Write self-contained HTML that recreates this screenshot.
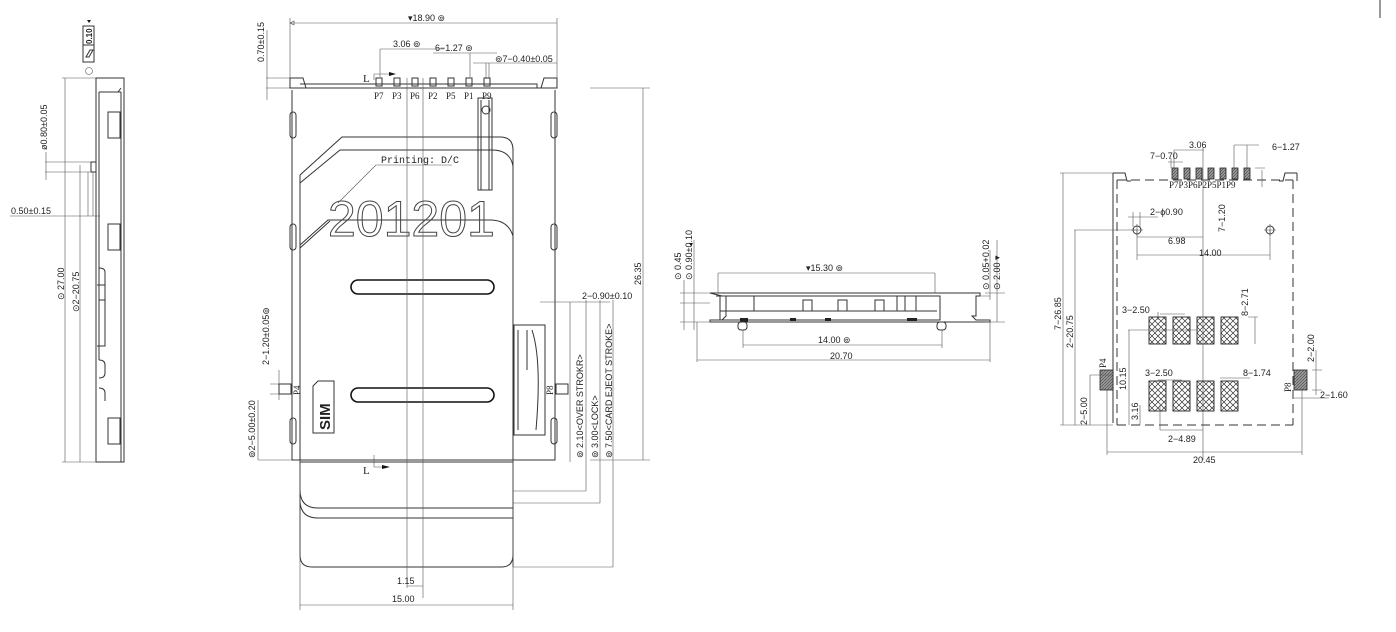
<!DOCTYPE html>
<html><head><meta charset="utf-8"><style>
html,body{margin:0;padding:0;background:#fff;}
svg{display:block;font-family:"Liberation Sans",sans-serif;}
text{font-size:9px;fill:#222;}
.s{fill:none;stroke:#333;stroke-width:1;}
.t{fill:none;stroke:#555;stroke-width:0.6;}
.k{fill:none;stroke:#111;stroke-width:1.6;}
</style></head><body>
<svg width="1396" height="632" viewBox="0 0 1396 632">
<defs>
<pattern id="x" width="6" height="6" patternUnits="userSpaceOnUse"><path d="M0 0L6 6M6 0L0 6" stroke="#333" stroke-width="0.7"/></pattern>
<pattern id="h" width="3" height="3" patternUnits="userSpaceOnUse"><rect width="3" height="3" fill="#999"/><path d="M0 3L3 0" stroke="#444" stroke-width="0.6"/></pattern>
</defs>
<!-- ===== LEFT VIEW ===== -->
<g>
<rect class="s" x="83" y="26" width="11" height="19"/><rect class="s" x="83" y="45" width="11" height="17"/>
<text x="92" y="44" transform="rotate(-90 92 44)" style="font-size:8px;font-weight:bold">0.10</text>
<path d="M86 57l4-7h3l-4 7z" class="s"/>
<path d="M87 20l2 3l2-3z" fill="#111"/>
<circle class="t" cx="89" cy="71" r="3.5"/>
<path class="s" d="M96 78h28v384h-28z M99 92h22 M99 92v268"/>
<path class="s" d="M121 92v370 M118 92l3-4"/>
<rect class="s" x="108" y="112" width="12" height="26"/><rect class="s" x="108" y="224" width="12" height="26"/><rect class="s" x="108" y="418" width="12" height="26"/>
<path class="s" d="M99 268q6 0 6 4v28h-6 M97 285h8v61h-8 M99 360q6 0 6 5v8q0 5-6 5 M99 388q6 0 6 5v8"/>
<rect class="s" x="91" y="162" width="5" height="10"/>
<path class="t" d="M62 78h34 M62 462h34 M65 78v384 M80 165v297 M45 162h46 M45 172h46 M46 152v28 M10 216h90 M88 172v44 M93 172v44"/>
<text x="64" y="300" transform="rotate(-90 64 300)">⊙ 27.00</text>
<text x="79" y="312" transform="rotate(-90 79 312)">⊙2−20.75</text>
<text x="47" y="150" transform="rotate(-90 47 150)">ø0.80±0.05</text>
<text x="11" y="214">0.50±0.15</text>
</g>
<!-- ===== MAIN VIEW ===== -->
<g>
<path class="t" d="M290 23h267 M290 18v70 M557 18v70 M290 23l4-2v4z"/>
<text x="408" y="21">▾18.90 ⊚</text>
<text x="264" y="62" transform="rotate(-90 264 62)">0.70±0.15</text>
<path class="t" d="M266 78h30 M266 88h30 M267 30v70"/>
<path class="t" d="M380 49h64 M380 49v28 M590 88h60 M643 88v372 M590 460h60"/>
<text x="393" y="47">3.06 ⊚</text>
<text x="435" y="51">6−1.27 ⊚</text>
<path class="t" d="M433 53h64 M470 53v24 M473 63h84 M486 63v15 M489 63v15"/>
<text x="495" y="62">⊚7−0.40±0.05</text>
<text x="641" y="285" transform="rotate(-90 641 285)">26.35</text>
<!-- body -->
<path class="s" d="M290 88h267 M292 90v370h263v-370 M300 84h237v4"/>
<path class="s" d="M290 78h13l3 10h-16z M557 78h-13l-3 10h16z"/>
<rect class="s" x="290" y="112" width="6" height="26" rx="3"/><rect class="s" x="290" y="224" width="6" height="26" rx="3"/><rect class="s" x="290" y="418" width="6" height="26" rx="3"/>
<rect class="s" x="551" y="112" width="6" height="26" rx="3"/><rect class="s" x="551" y="224" width="6" height="26" rx="3"/><rect class="s" x="551" y="418" width="6" height="26" rx="3"/>
<text x="363" y="82" style="font-family:'Liberation Serif',serif;font-size:11px">L</text>
<path class="t" d="M374 80v-6h20"/><path d="M389 72l7 2l-7 2z" fill="#111"/>
<g class="s">
<rect x="376" y="78" width="6" height="8"/><rect x="394" y="78" width="6" height="8"/><rect x="412" y="78" width="6" height="8"/><rect x="430" y="78" width="6" height="8"/><rect x="448" y="78" width="6" height="8"/><rect x="466" y="78" width="6" height="8"/><rect x="484" y="78" width="6" height="8"/>
</g>
<g style="font-family:'Liberation Serif',serif;font-size:10px">
<text x="374" y="99">P7</text><text x="392" y="99">P3</text><text x="410" y="99">P6</text><text x="428" y="99">P2</text><text x="446" y="99">P5</text><text x="464" y="99">P1</text><text x="482" y="99">P9</text>
</g>
<path class="s" d="M478 98h14v92h-14z M481 100v90 M489 100v90"/><circle class="s" cx="486" cy="110" r="4"/>
<!-- card -->
<path class="s" d="M300 175l42-38h158q13 0 13 13v417 M300 183l40-33h152q18 0 21 16 M300 175v380q0 12 12 12h189q12 0 12-12 M300 248l30-27 M300 245l28-25h162q18 0 23 16"/>
<text x="328" y="236" style="font-size:50px;fill:none;stroke:#444;stroke-width:1">201201</text>
<path class="t" d="M376 165h76 M376 165l-38 38"/>
<text x="381" y="163" style="font-family:'Liberation Mono',monospace;font-size:10px">Printing: D/C</text>
<rect class="k" x="351" y="280" width="143" height="14" rx="7"/>
<rect class="k" x="351" y="388" width="143" height="14" rx="7"/>
<path class="s" d="M313 386l5-5h16v52h-21z"/>
<text x="330" y="430" transform="rotate(-90 330 430)" style="font-size:15px;font-weight:bold">SIM</text>
<path class="s" d="M514 325h31v110h-31z M518 330v100 M532 330q10 30 4 100 M527 330v40"/>
<path class="s" d="M300 462h213 M300 490q0 18 18 18h195 M300 500q0 18 18 18h195"/>
<path class="t" d="M300 460v150 M513 460v150 M300 605h213 M407 78v510 M423 78v520 M407 586h16"/>
<text x="397" y="584">1.15</text><text x="392" y="602">15.00</text>
<text x="363" y="474" style="font-family:'Liberation Serif',serif;font-size:11px">L</text>
<path class="t" d="M374 455v12h14"/><path d="M382 465l8 2l-8 2z" fill="#111"/>
<path class="t" d="M513 491h73 M586 300v191 M513 503h87 M600 300v203 M513 567h100 M613 300v267 M540 302h70 M570 302v160"/>
<text x="582" y="299">2−0.90±0.10</text>
<text x="583" y="458" transform="rotate(-90 583 458)">⊚ 2.10&lt;OVER STROKR&gt;</text>
<text x="598" y="458" transform="rotate(-90 598 458)">⊚ 3.00&lt;LOCK&gt;</text>
<text x="612" y="458" transform="rotate(-90 612 458)">⊚ 7.50&lt;CARD EJEOT STROKE&gt;</text>
<text x="269" y="365" transform="rotate(-90 269 365)">2−1.20±0.05⊚</text>
<text x="255" y="458" transform="rotate(-90 255 458)">⊚2−5.00±0.20</text>
<path class="t" d="M258 460h34 M258 400v60 M270 384h22 M270 394h22 M279 370v30"/>
<rect class="s" x="279" y="384" width="12" height="10"/><rect class="s" x="556" y="384" width="12" height="10"/>
<text x="300" y="395" transform="rotate(-90 300 395)" style="font-family:'Liberation Serif',serif;font-size:9px">P4</text>
<text x="553" y="395" transform="rotate(-90 553 395)" style="font-family:'Liberation Serif',serif;font-size:9px">P8</text>
</g>
<!-- ===== SIDE VIEW ===== -->
<g>
<path class="s" d="M710 293h270v3h-4v20h-4l4 4h14v2h-280v-2h12l4-4v-20h-4z"/>
<path class="s" d="M716 296h224v24h-220v-24 M720 311h217 M754 296v15 M803 300h9v11h-9z M838 300h9v11h-9z M875 300h9v11h-9z M897 296v15 M905 296v15 M916 296v15"/>
<rect x="740" y="318" width="8" height="4" fill="#222"/><rect x="790" y="318" width="6" height="3" fill="#222"/><rect x="825" y="318" width="6" height="3" fill="#222"/><rect x="907" y="318" width="10" height="3" fill="#222"/>
<rect class="s" x="738" y="322" width="9" height="8" rx="3"/><rect class="s" x="937" y="322" width="9" height="8" rx="3"/>
<path class="t" d="M718 273v20 M935 273v20 M718 273h217 M743 330v18 M942 330v18 M743 345h199 M697 322v40 M990 322v40 M697 360h293 M680 293h30 M680 303h30 M680 322h30 M684 280v50 M694 240v90 M985 293h20 M985 322h20 M997 240v82 M980 296h10 M990 250v50"/>
<text x="806" y="271">▾15.30 ⊚</text><text x="818" y="343">14.00 ⊚</text><text x="830" y="359">20.70</text>
<text x="681" y="280" transform="rotate(-90 681 280)">⊙ 0.45</text>
<text x="692" y="280" transform="rotate(-90 692 280)">⊙ 0.90±0.10</text>
<text x="989" y="290" transform="rotate(-90 989 290)">⊙ 0.05+0.02</text>
<text x="1000" y="290" transform="rotate(-90 1000 290)">⊙ 2.00 ▾</text>
<path d="M689 243l2 3l2-3z" fill="#111"/>
</g>
<!-- ===== RIGHT VIEW ===== -->
<g>
<path class="s" d="M1113 173h12l2 8h4 M1297 173h-12l-2 8h-4" />
<path class="s" d="M1117 180h176 M1117 180v245 M1293 180v245 M1117 425h176" stroke-dasharray="9 5"/>
<path class="s" d="M1113 173v250 M1297 173v8"/>
<g fill="url(#h)" stroke="#222" stroke-width="0.8">
<rect x="1172" y="168" width="6" height="11"/><rect x="1184" y="168" width="6" height="11"/><rect x="1196" y="168" width="6" height="11"/><rect x="1208" y="168" width="6" height="11"/><rect x="1220" y="168" width="6" height="11"/><rect x="1232" y="168" width="6" height="11"/><rect x="1244" y="168" width="6" height="11"/>
<rect x="1100" y="370" width="13" height="20"/><rect x="1294" y="370" width="13" height="20"/>
</g>
<g style="font-family:'Liberation Serif',serif;font-size:10px">
<text x="1169" y="188">P7P3P6P2P5P1P9</text>
<text x="1106" y="368" transform="rotate(-90 1106 368)">P4</text>
<text x="1291" y="392" transform="rotate(-90 1291 392)">P8</text>
</g>
<g fill="url(#x)" stroke="#222" stroke-width="0.9">
<rect x="1149" y="317" width="17" height="27"/><rect x="1173" y="317" width="17" height="27"/><rect x="1197" y="317" width="17" height="27"/><rect x="1221" y="317" width="17" height="27"/>
<rect x="1149" y="381" width="17" height="30"/><rect x="1173" y="381" width="17" height="30"/><rect x="1197" y="381" width="17" height="30"/><rect x="1221" y="381" width="17" height="30"/>
</g>
<circle class="s" cx="1137" cy="230" r="4"/><path class="t" d="M1131 230h12 M1137 224v12"/>
<circle class="s" cx="1270" cy="230" r="4"/><path class="t" d="M1264 230h12 M1270 224v12"/>
<path class="t" d="M1203 148v312 M1174 150h30 M1174 150v18 M1234 145h25 M1234 145v23 M1247 145v23 M1168 162h15 M1171 158v10 M1174 158v10 M1128 217h30 M1133 212v15 M1140 212v15 M1137 237h66 M1137 255h133 M1137 230v30 M1270 230v30 M1255 168h10 M1262 170v17 M1060 173h53 M1060 425h53 M1063 173v252 M1074 230h63 M1075 230v195 M1090 375h22 M1090 375v50 M1128 330h70 M1129 330v95 M1140 405v20 M1160 314h25 M1158 312v8 M1248 317h10 M1255 317v27 M1158 380h24 M1220 378h30 M1160 430h43 M1160 405v25 M1312 370h10 M1312 390h10 M1316 350v45 M1294 398h35 M1107 390v65 M1302 390v65 M1107 452h195"/>
<text x="1189" y="148">3.06</text><text x="1272" y="150">6−1.27</text><text x="1150" y="159">7−0.70</text>
<text x="1150" y="215">2−ϕ0.90</text><text x="1168" y="244">6.98</text><text x="1199" y="256">14.00</text>
<text x="1225" y="232" transform="rotate(-90 1225 232)">7−1.20</text>
<text x="1061" y="330" transform="rotate(-90 1061 330)">7−26.85</text>
<text x="1073" y="348" transform="rotate(-90 1073 348)">2−20.75</text>
<text x="1087" y="425" transform="rotate(-90 1087 425)">2−5.00</text>
<text x="1126" y="390" transform="rotate(-90 1126 390)">10.15</text>
<text x="1138" y="420" transform="rotate(-90 1138 420)">3.16</text>
<text x="1122" y="313">3−2.50</text><text x="1145" y="376">3−2.50</text>
<text x="1248" y="316" transform="rotate(-90 1248 316)">8−2.71</text>
<text x="1243" y="376">8−1.74</text>
<text x="1314" y="362" transform="rotate(-90 1314 362)">2−2.00</text>
<text x="1320" y="398">2−1.60</text>
<text x="1168" y="442">2−4.89</text><text x="1193" y="463">20.45</text>
</g>
<path class="s" d="M1380 0v18"/>
</svg>
</body></html>
